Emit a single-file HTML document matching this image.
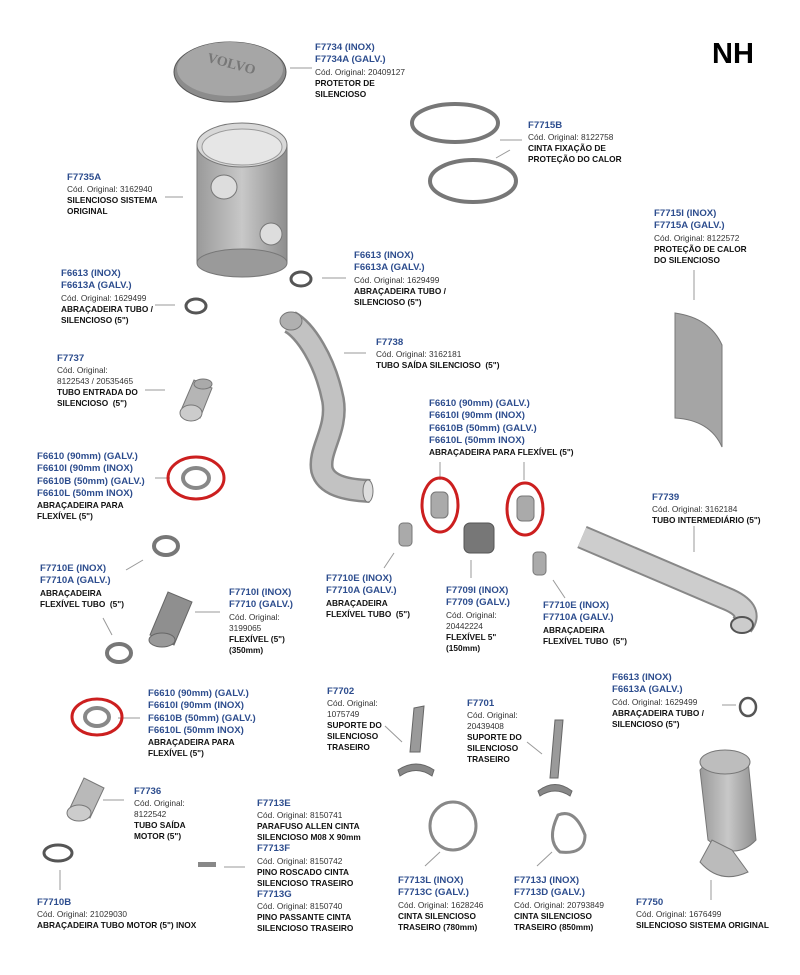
<!DOCTYPE html>
<html><head><meta charset="utf-8">
<style>
html,body{margin:0;padding:0;background:#fff;}
#c{position:relative;width:800px;height:975px;overflow:hidden;font-family:"Liberation Sans",sans-serif;}
.l{position:absolute;font-size:8.3px;line-height:11px;color:#222;white-space:nowrap;}
.l .b{color:#2d4d8e;font-weight:bold;font-size:9.6px;line-height:12.3px;display:block;}
.l .g{display:block;color:#333;}
.l .k{display:block;font-weight:bold;color:#111;}
svg{position:absolute;left:0;top:0;}
</style></head><body><div id="c">
<svg width="800" height="975" viewBox="0 0 800 975">
<defs>
<linearGradient id="cy" x1="0" x2="1" y1="0" y2="0"><stop offset="0" stop-color="#9a9a9a"/><stop offset=".5" stop-color="#c8c8c8"/><stop offset="1" stop-color="#8e8e8e"/></linearGradient>
</defs>
<g stroke="#999" stroke-width="1" fill="none">
<line x1="290" y1="68" x2="312" y2="68"/>
<line x1="500" y1="140" x2="522" y2="140"/>
<line x1="510" y1="150" x2="496" y2="158"/>
<line x1="165" y1="197" x2="183" y2="197"/>
<line x1="694" y1="270" x2="694" y2="300"/>
<line x1="322" y1="278" x2="346" y2="278"/>
<line x1="155" y1="305" x2="175" y2="305"/>
<line x1="344" y1="353" x2="366" y2="353"/>
<line x1="145" y1="390" x2="165" y2="390"/>
<line x1="440" y1="462" x2="440" y2="480"/>
<line x1="524" y1="462" x2="524" y2="480"/>
<line x1="155" y1="478" x2="170" y2="478"/>
<line x1="694" y1="526" x2="694" y2="552"/>
<line x1="126" y1="570" x2="143" y2="560"/>
<line x1="103" y1="618" x2="112" y2="635"/>
<line x1="195" y1="612" x2="220" y2="612"/>
<line x1="384" y1="568" x2="394" y2="553"/>
<line x1="471" y1="560" x2="471" y2="578"/>
<line x1="553" y1="580" x2="565" y2="598"/>
<line x1="722" y1="705" x2="736" y2="705"/>
<line x1="385" y1="726" x2="402" y2="742"/>
<line x1="527" y1="742" x2="542" y2="754"/>
<line x1="118" y1="718" x2="140" y2="718"/>
<line x1="103" y1="800" x2="124" y2="800"/>
<line x1="60" y1="870" x2="60" y2="890"/>
<line x1="224" y1="867" x2="245" y2="867"/>
<line x1="425" y1="866" x2="440" y2="852"/>
<line x1="537" y1="866" x2="552" y2="852"/>
<line x1="711" y1="880" x2="711" y2="900"/>
</g>
<!-- lid -->
<ellipse cx="230" cy="72" rx="56" ry="30" fill="#8c8c8c" stroke="#555"/>
<ellipse cx="230" cy="69" rx="53" ry="27" fill="#a6a6a6"/>
<text x="205" y="68" font-family="Liberation Serif" font-size="14" fill="#777" transform="rotate(15 230 70)" font-weight="bold">VOLVO</text>
<!-- muffler -->
<rect x="197" y="145" width="90" height="118" fill="url(#cy)" stroke="#777"/>
<ellipse cx="242" cy="263" rx="45" ry="14" fill="#9a9a9a" stroke="#777"/>
<ellipse cx="242" cy="145" rx="45" ry="22" fill="#d8d8d8" stroke="#777"/>
<ellipse cx="242" cy="147" rx="40" ry="18" fill="#e6e6e6" stroke="#999"/>
<ellipse cx="224" cy="187" rx="13" ry="12" fill="#ddd" stroke="#777"/>
<ellipse cx="271" cy="234" rx="11" ry="11" fill="#ddd" stroke="#777"/>
<!-- rings -->
<ellipse cx="455" cy="123" rx="43" ry="19" fill="none" stroke="#777" stroke-width="4"/>
<ellipse cx="473" cy="181" rx="43" ry="21" fill="none" stroke="#777" stroke-width="4"/>
<!-- small clamps -->
<ellipse cx="301" cy="279" rx="10" ry="7" fill="none" stroke="#555" stroke-width="3"/>
<ellipse cx="196" cy="306" rx="10" ry="7" fill="none" stroke="#555" stroke-width="3"/>
<ellipse cx="748" cy="707" rx="8" ry="9" fill="none" stroke="#555" stroke-width="2.5"/>
<!-- tube F7737 -->
<path d="M182 408 L194 380 L212 388 L200 418 Z" fill="#b5b5b5" stroke="#777"/>
<ellipse cx="191" cy="413" rx="11" ry="8" fill="#ccc" stroke="#777"/>
<ellipse cx="203" cy="384" rx="9" ry="5" fill="#aaa" stroke="#777"/>
<!-- F7738 pipe -->
<path d="M290 322 C305 330 325 360 333 400 C338 430 318 450 322 470 C326 485 345 490 370 491" fill="none" stroke="#888" stroke-width="24"/>
<path d="M290 322 C305 330 325 360 333 400 C338 430 318 450 322 470 C326 485 345 490 370 491" fill="none" stroke="#c2c2c2" stroke-width="19"/>
<ellipse cx="291" cy="321" rx="11" ry="9" fill="#b0b0b0" stroke="#777"/>
<ellipse cx="368" cy="491" rx="5" ry="11" fill="#ddd" stroke="#777"/>
<!-- heat shield -->
<path d="M675 313 Q710 318 722 345 L722 447 Q710 420 675 418 Z" fill="#a5a5a5" stroke="#777"/>
<!-- F7739 pipe -->
<path d="M582 537 L725 598 C745 606 750 615 742 625" fill="none" stroke="#888" stroke-width="24"/>
<path d="M582 537 L725 598 C745 606 750 615 742 625" fill="none" stroke="#cdcdcd" stroke-width="20"/>
<ellipse cx="742" cy="625" rx="11" ry="8" fill="#ccc" stroke="#555" stroke-width="2"/>
<!-- clamps/flex mid -->
<rect x="431" y="492" width="17" height="26" rx="5" fill="#aaa" stroke="#777"/>
<rect x="517" y="496" width="17" height="25" rx="5" fill="#aaa" stroke="#777"/>
<rect x="399" y="523" width="13" height="23" rx="4" fill="#aaa" stroke="#777"/>
<rect x="533" y="552" width="13" height="23" rx="4" fill="#aaa" stroke="#777"/>
<rect x="464" y="523" width="30" height="30" rx="6" fill="#777" stroke="#555"/>
<!-- red circles -->
<g fill="none" stroke="#cc1f1f" stroke-width="3">
<ellipse cx="196" cy="478" rx="28" ry="21"/>
<ellipse cx="440" cy="505" rx="18" ry="27"/>
<ellipse cx="525" cy="509" rx="18" ry="26"/>
<ellipse cx="97" cy="717" rx="25" ry="18"/>
</g>
<ellipse cx="196" cy="478" rx="13" ry="10" fill="none" stroke="#888" stroke-width="4"/>
<ellipse cx="97" cy="717" rx="12" ry="9" fill="none" stroke="#888" stroke-width="4"/>
<!-- left clamps and flex -->
<ellipse cx="166" cy="546" rx="12" ry="9" fill="none" stroke="#777" stroke-width="4"/>
<ellipse cx="119" cy="653" rx="12" ry="9" fill="none" stroke="#777" stroke-width="4"/>
<path d="M150 635 L168 592 L192 602 L174 645 Z" fill="#8f8f8f" stroke="#666"/>
<ellipse cx="162" cy="640" rx="13" ry="7" fill="#999" stroke="#666"/>
<!-- supports -->
<path d="M414 708 L424 706 L420 752 L410 752 Z" fill="#9a9a9a" stroke="#666"/>
<path d="M398 770 Q416 758 434 770 L432 776 Q416 765 400 776 Z" fill="#888" stroke="#666"/>
<path d="M555 720 L563 720 L558 778 L550 778 Z" fill="#9a9a9a" stroke="#666"/>
<path d="M538 791 Q555 778 572 791 L570 796 Q555 786 540 796 Z" fill="#888" stroke="#666"/>
<!-- rear clamps -->
<ellipse cx="453" cy="826" rx="23" ry="24" fill="none" stroke="#888" stroke-width="3"/>
<path d="M558 815 Q575 808 585 835 Q585 855 560 852 Q546 840 558 815 Z" fill="none" stroke="#888" stroke-width="3"/>
<!-- F7736 & F7710B -->
<path d="M70 808 L84 778 L104 788 L90 818 Z" fill="#b9b9b9" stroke="#777"/>
<ellipse cx="79" cy="813" rx="12" ry="8" fill="#ccc" stroke="#777"/>
<ellipse cx="58" cy="853" rx="14" ry="8" fill="none" stroke="#555" stroke-width="3"/>
<rect x="198" y="862" width="18" height="5" fill="#888"/>
<!-- F7750 -->
<path d="M700 770 Q720 745 748 760 L756 840 Q735 862 708 840 Z" fill="url(#cy)" stroke="#777"/>
<ellipse cx="725" cy="762" rx="25" ry="12" fill="#bdbdbd" stroke="#777"/>
<path d="M712 840 L700 862 Q720 885 748 872 L732 850 Z" fill="#bbb" stroke="#777"/>
</svg>

<div style="position:absolute;left:712px;top:38px;font-size:29px;font-weight:bold;color:#000;">NH</div>

<div class="l" style="left:315px;top:42px"><span class="b">F7734 (INOX)</span><span class="b">F7734A (GALV.)</span><span class="g">Cód. Original: 20409127</span><span class="k">PROTETOR DE</span><span class="k">SILENCIOSO</span></div>
<div class="l" style="left:528px;top:120px"><span class="b">F7715B</span><span class="g">Cód. Original: 8122758</span><span class="k">CINTA FIXAÇÃO DE</span><span class="k">PROTEÇÃO DO CALOR</span></div>
<div class="l" style="left:67px;top:172px"><span class="b">F7735A</span><span class="g">Cód. Original: 3162940</span><span class="k">SILENCIOSO SISTEMA</span><span class="k">ORIGINAL</span></div>
<div class="l" style="left:654px;top:208px"><span class="b">F7715I (INOX)</span><span class="b">F7715A (GALV.)</span><span class="g">Cód. Original: 8122572</span><span class="k">PROTEÇÃO DE CALOR</span><span class="k">DO SILENCIOSO</span></div>
<div class="l" style="left:354px;top:250px"><span class="b">F6613 (INOX)</span><span class="b">F6613A (GALV.)</span><span class="g">Cód. Original: 1629499</span><span class="k">ABRAÇADEIRA TUBO /</span><span class="k">SILENCIOSO (5")</span></div>
<div class="l" style="left:61px;top:268px"><span class="b">F6613 (INOX)</span><span class="b">F6613A (GALV.)</span><span class="g">Cód. Original: 1629499</span><span class="k">ABRAÇADEIRA TUBO /</span><span class="k">SILENCIOSO (5")</span></div>
<div class="l" style="left:376px;top:337px"><span class="b">F7738</span><span class="g">Cód. Original: 3162181</span><span class="k">TUBO SAÍDA SILENCIOSO&nbsp; (5")</span></div>
<div class="l" style="left:57px;top:353px"><span class="b">F7737</span><span class="g">Cód. Original:</span><span class="g">8122543 / 20535465</span><span class="k">TUBO ENTRADA DO</span><span class="k">SILENCIOSO&nbsp; (5")</span></div>
<div class="l" style="left:429px;top:398px"><span class="b">F6610 (90mm) (GALV.)</span><span class="b">F6610I (90mm (INOX)</span><span class="b">F6610B (50mm) (GALV.)</span><span class="b">F6610L (50mm INOX)</span><span class="k">ABRAÇADEIRA PARA FLEXÍVEL (5")</span></div>
<div class="l" style="left:37px;top:451px"><span class="b">F6610 (90mm) (GALV.)</span><span class="b">F6610I (90mm (INOX)</span><span class="b">F6610B (50mm) (GALV.)</span><span class="b">F6610L (50mm INOX)</span><span class="k">ABRAÇADEIRA PARA</span><span class="k">FLEXÍVEL (5")</span></div>
<div class="l" style="left:652px;top:492px"><span class="b">F7739</span><span class="g">Cód. Original: 3162184</span><span class="k">TUBO INTERMEDIÁRIO (5")</span></div>
<div class="l" style="left:40px;top:563px"><span class="b">F7710E (INOX)</span><span class="b">F7710A (GALV.)</span><span class="k">ABRAÇADEIRA</span><span class="k">FLEXÍVEL TUBO&nbsp; (5")</span></div>
<div class="l" style="left:326px;top:573px"><span class="b">F7710E (INOX)</span><span class="b">F7710A (GALV.)</span><span class="k">ABRAÇADEIRA</span><span class="k">FLEXÍVEL TUBO&nbsp; (5")</span></div>
<div class="l" style="left:229px;top:587px"><span class="b">F7710I (INOX)</span><span class="b">F7710 (GALV.)</span><span class="g">Cód. Original:</span><span class="g">3199065</span><span class="k">FLEXÍVEL (5")</span><span class="k">(350mm)</span></div>
<div class="l" style="left:446px;top:585px"><span class="b">F7709I (INOX)</span><span class="b">F7709 (GALV.)</span><span class="g">Cód. Original:</span><span class="g">20442224</span><span class="k">FLEXÍVEL 5"</span><span class="k">(150mm)</span></div>
<div class="l" style="left:543px;top:600px"><span class="b">F7710E (INOX)</span><span class="b">F7710A (GALV.)</span><span class="k">ABRAÇADEIRA</span><span class="k">FLEXÍVEL TUBO&nbsp; (5")</span></div>
<div class="l" style="left:612px;top:672px"><span class="b">F6613 (INOX)</span><span class="b">F6613A (GALV.)</span><span class="g">Cód. Original: 1629499</span><span class="k">ABRAÇADEIRA TUBO /</span><span class="k">SILENCIOSO (5")</span></div>
<div class="l" style="left:327px;top:686px"><span class="b">F7702</span><span class="g">Cód. Original:</span><span class="g">1075749</span><span class="k">SUPORTE DO</span><span class="k">SILENCIOSO</span><span class="k">TRASEIRO</span></div>
<div class="l" style="left:148px;top:688px"><span class="b">F6610 (90mm) (GALV.)</span><span class="b">F6610I (90mm (INOX)</span><span class="b">F6610B (50mm) (GALV.)</span><span class="b">F6610L (50mm INOX)</span><span class="k">ABRAÇADEIRA PARA</span><span class="k">FLEXÍVEL (5")</span></div>
<div class="l" style="left:467px;top:698px"><span class="b">F7701</span><span class="g">Cód. Original:</span><span class="g">20439408</span><span class="k">SUPORTE DO</span><span class="k">SILENCIOSO</span><span class="k">TRASEIRO</span></div>
<div class="l" style="left:134px;top:786px"><span class="b">F7736</span><span class="g">Cód. Original:</span><span class="g">8122542</span><span class="k">TUBO SAÍDA</span><span class="k">MOTOR (5")</span></div>
<div class="l" style="left:257px;top:798px"><span class="b">F7713E</span><span class="g">Cód. Original: 8150741</span><span class="k">PARAFUSO ALLEN CINTA</span><span class="k">SILENCIOSO M08 X 90mm</span><span class="b">F7713F</span><span class="g">Cód. Original: 8150742</span><span class="k">PINO ROSCADO CINTA</span><span class="k">SILENCIOSO TRASEIRO</span><span class="b">F7713G</span><span class="g">Cód. Original: 8150740</span><span class="k">PINO PASSANTE CINTA</span><span class="k">SILENCIOSO TRASEIRO</span></div>
<div class="l" style="left:398px;top:875px"><span class="b">F7713L (INOX)</span><span class="b">F7713C (GALV.)</span><span class="g">Cód. Original: 1628246</span><span class="k">CINTA SILENCIOSO</span><span class="k">TRASEIRO (780mm)</span></div>
<div class="l" style="left:514px;top:875px"><span class="b">F7713J (INOX)</span><span class="b">F7713D (GALV.)</span><span class="g">Cód. Original: 20793849</span><span class="k">CINTA SILENCIOSO</span><span class="k">TRASEIRO (850mm)</span></div>
<div class="l" style="left:37px;top:897px"><span class="b">F7710B</span><span class="g">Cód. Original: 21029030</span><span class="k">ABRAÇADEIRA TUBO MOTOR (5") INOX</span></div>
<div class="l" style="left:636px;top:897px"><span class="b">F7750</span><span class="g">Cód. Original: 1676499</span><span class="k">SILENCIOSO SISTEMA ORIGINAL</span></div>
</div></body></html>
